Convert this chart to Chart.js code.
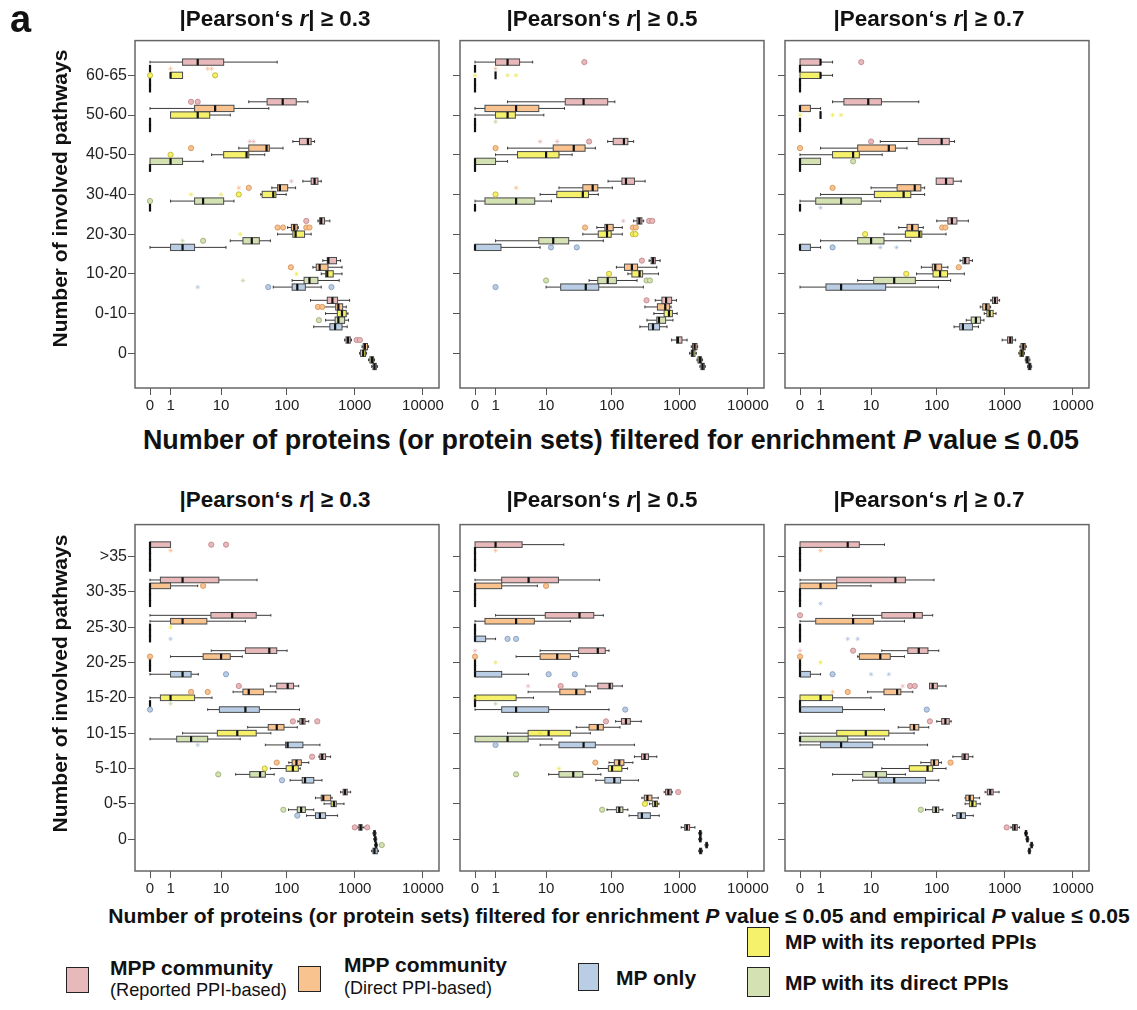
<!DOCTYPE html>
<html>
<head>
<meta charset="utf-8">
<script src="https://cdn.jsdelivr.net/npm/chart.js@4.4.0/dist/chart.umd.min.js"></script>
<style>
  body { margin: 0; background: #fff; }
  #page { position: relative; width: 1137px; height: 1010px; overflow: hidden; background: #fff;
          font-family: Arial, "Liberation Sans", sans-serif; color: #111; }
  canvas { position: absolute; }
  .t { position: absolute; white-space: nowrap; line-height: 1; }
  .sw { position: absolute; border: 1.5px solid #222; box-sizing: border-box; }
</style>
</head>
<body>
<div id="page"></div>
<script>
// x axis is log10(count + 1), ticks shown as raw counts
const xTickValues = [0, 1, 10, 100, 1000, 10000];
const topCategories = ['60-65', '50-60', '40-50', '30-40', '20-30', '10-20', '0-10', '0'];
const bottomCategories = ['>35', '30-35', '25-30', '20-25', '15-20', '10-15', '5-10', '0-5', '0'];

// slot order inside a category, top to bottom
const seriesLabels = ['MPP community (Reported PPI-based)', 'MPP community (Direct PPI-based)',
                      'MP with its reported PPIs', 'MP with its direct PPIs', 'MP only'];
const seriesColors = ['#e8b9bb', '#f9c390', '#f6f16b', '#d4e1b2', '#b9cde5'];
const seriesEdges = ['#c78f93', '#d99a62', '#c2bc3a', '#a3b47f', '#8aa2c2'];
const seriesFaint = ['rgba(225,160,165,0.45)', 'rgba(245,170,110,0.45)', 'rgba(235,228,60,0.5)',
                     'rgba(180,200,140,0.45)', 'rgba(150,175,215,0.45)'];

// each box: [low whisker, q1, median, q3, high whisker, outliers, extremes]
// ---- top row: enrichment P <= 0.05 ----
const t03Rep = [[0,2,4,11,72], [27,51,87,138,205,[3,4]], [123,154,205,229,257,[],[28,32]], [173,229,257,288,322,[],[117]],
  [288,305,322,360,431,[194]], [340,395,410,540,620], [224,395,470,560,840], [710,745,795,860,895,[1065,1190]]];
const t03Dir = [[0,0,0,0,0,[],[1,6,7]], [0,3.5,8,16,54], [19,27,50,55,88,[3]], [60,73,79,103,135,[27],[19]],
  [103,117,129,143,148,[73,88,194,216]], [243,272,305,405,650,[115]], [322,525,575,665,750,[288,333]], [1280,1330,1410,1540,1595]];
const t03MpRep = [[1,1,1,2,2,[0,8]], [1,1,4,6.5,14], [7,11,25,27,47,[1]], [41,43,63,69,98,[19],[3,10]],
  [73,123,135,183,229,[],[20]], [322,373,395,483,650,[],[139]], [373,555,650,750,795], [1180,1220,1330,1445,1490]];
const t03MpDir = [[0,0,0,0,0], [0,0,0,0,0], [0,0,1,2,5], [1,3.5,5,11,16,[0]],
  [14,22,30,39,57,[5],[2]], [120,180,216,288,590,[],[22]], [373,515,575,710,810,[298]], [1595,1670,1790,1890,1950]];
const t03MpOnly = [[0,0,0,0,0], [0,0,0,0,0], [0,0,0,0,0], [0,0,0,0,0],
  [0,1,2,3.5,12], [63,120,143,188,322,[53,455],[4]], [250,431,515,650,775], [1770,1850,1950,2070,2160]];

const t05Rep = [[0,1,2,3.5,6,[39]], [2,20,38,87,111], [87,105,151,173,210,[46],[8,15]], [88,141,162,216,310],
  [210,236,255,278,295,[355,395],[148]], [355,380,405,437,515,[278]], [437,547,630,760,895,[325]], [760,895,940,1076,1280]];
const t05Dir = [[0,0,0,0,0,[],[1]], [0,0.4,3,7.6,19.5], [2,13,27,40,57,[1]], [16,37,52,62,102,[],[3]],
  [60,79,85,105,143,[40,205,226]], [117,154,198,240,460], [308,470,612,710,745], [1475,1540,1650,1790,1830]];
const t05MpRep = [[1,1,1,1,1,[],[0,2,3]], [0,1,2,2.9,9.2], [1,3.2,10,16,25.5], [8,14.8,37,45,63,[1]],
  [37,63,85,98,143,[205,224]], [173,198,257,285,488,[91]], [417,590,695,780,915], [1395,1475,1540,1670,1750]];
const t05MpDir = [[0,0,0,0,0], [0,0,0,0,0,[],[1]], [0,0,0,1,2], [0,0.4,3,6.5,12.2],
  [1,7.6,13,22.6,75], [46,62,87,117,236,[10,325,365]], [330,460,495,620,795], [1790,1850,1975,2090,2160]];
const t05MpOnly = [[0,0,0,0,0], [0,0,0,0,0], [0,0,0,0,0], [0,0,0,0,0],
  [0,0,0,1.4,8,[12,30]], [10,17,41,64,292,[1]], [260,348,405,505,650], [1975,2045,2160,2290,2367]];

const t07Rep = [[0,0,1,1,2,[6.9]], [2,3.4,9,14.6,54], [14,53,118,153,183,[10]], [98,98,137,175,229],
  [100,146,167,198,292], [221,243,262,300,335], [625,660,720,785,840], [915,1100,1205,1300,1445]];
const t07Dir = [[0,0,0,0,0], [0,0,0,0.42,1], [1,6,19,24,36,[0]], [10,25.5,47,58,66,[2]],
  [27,36,43,53,63,[120,134]], [59,86,95,118,146,[211]], [437,475,535,590,620], [1670,1730,1870,2000,2070]];
const t07MpRep = [[0,0,1,1,2], [1,1,1,1,1,[],[0,2,3]], [0,2,5,6.4,15], [1,11.3,32,41,66],
  [16,34,55,60,137,[8]], [50,88,112,144,255,[35]], [500,547,600,675,745], [1610,1670,1770,1890,1950]];
const t07MpDir = [[0,0,0,0,0], [0,0,0,0,0], [0,0,0,1,1,[5]], [0,0.7,3,6.9,14.2],
  [1,6,10,16,41], [6,11,23,48,160], [272,322,377,442,495], [2000,2045,2140,2265,2340]];
const t07MpOnly = [[0,0,0,0,0], [0,0,0,0,0], [0,0,0,0,0], [0,0,0,0,0,[],[1]],
  [0,0,0,0.42,1,[2],[14,25]], [0,1.4,3,17,106], [180,218,243,335,412], [2160,2210,2315,2420,2480]];

// ---- bottom row: enrichment P <= 0.05 and empirical P <= 0.05 ----
const b03Rep = [[0,0,0,1,1,[6.9,12]], [0,0.42,2,9.2,36], [0,6.8,15,35,58], [6.9,24,55,71,101],
  [57,71,103,126,150,[19]], [146,156,171,186,211,[123,282]], [298,308,333,373,442,[236]], [620,675,720,775,870], [1090,1150,1220,1280,1370,[1000,1525]]];
const b03Dir = [[0,0,0,0,0,[],[1]], [0,0,0,1,4,[5]], [0,1,2,5.8,24], [1,5,10,14,21.5,[0]],
  [15.5,22,27,45,69,[3,6]], [26,53,71,91,143], [107,120,139,164,211,[71]], [265,322,345,442,465], [1850,1900,1950,2000,2050]];
const b03MpRep = [[0,0,0,0,0], [0,0,0,0,0], [0,0,0,0,0,[],[1]], [0,0,0,0,0],
  [0,0.42,1,3.5,7.1], [2,8.7,18,35,58], [57,98,123,148,158,[47]], [355,450,495,535,695], [1900,1950,2000,2050,2100]];
const b03MpDir = [[0,0,0,0,0], [0,0,0,0,0], [0,0,0,0,0], [0,0,0,0,0],
  [0,0,0,0,0,[],[1]], [0,1.46,3,6,20], [17,28,40,48,65,[9]], [106,143,163,188,250,[89]], [1950,2000,2050,2100,2150,[2490]]];
const b03MpOnly = [[0,0,0,0,0], [0,0,0,0,0], [0,0,0,0,0,[],[1]], [0,1,2,3,4.1,[12]],
  [6,9.4,24,39,154,[0]], [48,96,103,173,308,[],[4]], [112,169,186,250,330,[85]], [196,265,308,373,560,[143]], [1770,1850,1950,2140,2235]];

const b05Rep = [[0,0,1,3.9,19], [0,1.46,5.1,15.7,66], [1,9.7,33,54,75], [8,32,62,80,91,[],[0]],
  [41,62,93,103,143,[17],[5]], [114,139,162,188,272,[82]], [216,275,305,348,460], [590,620,680,750,775,[950]], [1050,1180,1270,1395,1670]];
const b05Dir = [[0,0,0,0,0,[],[1]], [0,0,0,1.46,7.2,[10]], [0,0.4,3,6.4,24], [3,8,15,24,32,[0]],
  [5,16.5,29.5,40,48], [29.5,46,62,75,132], [91,109,129,151,205,[57]], [278,302,335,390,483], [1900,1950,2000,2050,2100]];
const b05MpRep = [[0,0,0,0,0], [0,0,0,0,0], [0,0,0,0,0], [0,0,0,0,0,[],[1]],
  [0,0,0,3,6.2,[],[0]], [2,5,11,24,48,[],[8]], [62,89,101,141,171,[],[16]], [360,400,437,470,495,[308]], [1900,1950,2000,2050,2100]];
const b05MpDir = [[0,0,0,0,0], [0,0,0,0,0], [0,0,0,0,0], [0,0,0,0,0],
  [0,0,0,0,0,[],[1]], [0,0,2,5,12.4], [11,16,26.5,37,69,[3]], [85,117,129,146,173,[72]], [2350,2420,2480,2540,2600]];
const b05MpOnly = [[0,0,0,0,0], [0,0,0,0,0], [0,0,0,0.43,1,[2,3]], [0,0,0,1.46,5.1,[11,28]],
  [0,1.46,3,11,91,[158]], [8,16,38,57,216,[1]], [58,79,109,135,248], [180,243,278,370,500], [1900,1950,2020,2100,2150]];

const b07Rep = [[0,0,4,6.4,16.3], [0,2.45,24,34,91], [4.9,14.8,46,61,87,[0]], [14.8,37,54,74,107,[5],[0]],
  [78,78,87,102,137,[40,47],[31]], [100,118,134,153,163,[79]], [173,236,257,292,340], [515,555,612,675,825], [1230,1300,1395,1525,1650,[1065]]];
const b07Dir = [[0,0,0,0,0,[],[1]], [0,0,1,2.45,10], [0,0.7,5,10.9,33], [6,6.4,14,20,33,[0]],
  [8.8,16,25.5,29,44,[4],[2]], [26.5,40,46,54,76], [58,82,91,106,117,[160]], [262,268,305,348,427], [1950,2000,2050,2100,2150]];
const b07MpRep = [[0,0,0,0,0], [0,0,0,0,0], [0,0,0,0,0], [0,0,0,0,0,[],[1]],
  [0,0,1,2,10], [0,2.45,8.2,19,46], [14.8,39,73,87,137], [262,305,335,380,437], [2050,2100,2150,2200,2250]];
const b07MpDir = [[0,0,0,0,0], [0,0,0,0,0], [0,0,0,0,0], [0,0,0,0,0],
  [0,0,0,0,0], [0,0,0,4,16.3], [2,7.3,12,17.5,34], [68,87,97,107,123,[58]], [2350,2420,2480,2540,2600]];
const b07MpOnly = [[0,0,0,0,0], [0,0,0,0,0,[],[1]], [0,0,0,0,0,[],[4,6]], [0,0,0,0.42,1,[2],[10,19]],
  [0,0,0,3.2,16.3,[71]], [0,1,3,10.6,73], [4.9,13,23,68,107], [171,198,226,265,345], [2200,2250,2300,2350,2400]];

const tx = v => Math.log10(v + 1);
const SLOT = [-2 / 6, -1 / 6, 0, 1 / 6, 2 / 6];

Chart.defaults.font.family = 'Arial, "Liberation Sans", sans-serif';

const page = document.getElementById('page');

// draws boxes, whiskers and medians through the chart scales
const boxPlugin = {
    id: 'boxes',
    beforeDatasetsDraw(chart, args, opts) {
        const ctx = chart.ctx;
        const x = chart.scales.x, y = chart.scales.y;
        const unit = Math.abs(y.getPixelForValue(1) - y.getPixelForValue(0));
        const bh = unit / 6 - 0.3;
        const px = v => x.getPixelForValue(tx(v));
        opts.series.forEach((arr, s) => arr.forEach((b, i) => {
            if (!b) return;
            const [lo, q1, md, q3, hi] = b;
            const cy = y.getPixelForValue(i + SLOT[s]);
            ctx.save();
            ctx.strokeStyle = '#3a3a3a';
            ctx.lineWidth = 1;
            const cap = bh * 0.22;
            if (lo < q1) {
                ctx.beginPath();
                ctx.moveTo(px(lo), cy); ctx.lineTo(px(q1), cy);
                ctx.moveTo(px(lo), cy - cap); ctx.lineTo(px(lo), cy + cap);
                ctx.stroke();
            }
            if (hi > q3) {
                ctx.beginPath();
                ctx.moveTo(px(q3), cy); ctx.lineTo(px(hi), cy);
                ctx.moveTo(px(hi), cy - cap); ctx.lineTo(px(hi), cy + cap);
                ctx.stroke();
            }
            let mh = bh / 2;
            if (q3 > q1) {
                ctx.fillStyle = seriesColors[s];
                ctx.fillRect(px(q1), cy - bh / 2, px(q3) - px(q1), bh);
                ctx.strokeStyle = '#4a4a4a';
                ctx.strokeRect(px(q1), cy - bh / 2, px(q3) - px(q1), bh);
            } else {
                mh = unit / 12 + 0.6; // collapsed box: a solid dash joining its neighbours
            }
            ctx.strokeStyle = '#111';
            ctx.lineWidth = 2.2;
            ctx.beginPath();
            ctx.moveTo(px(md), cy - mh); ctx.lineTo(px(md), cy + mh);
            ctx.stroke();
            ctx.restore();
        }));
    },
    afterDraw(chart) {
        const a = chart.chartArea, ctx = chart.ctx;
        ctx.save();
        ctx.strokeStyle = '#666';
        ctx.lineWidth = 1.5;
        ctx.strokeRect(a.left, a.top, a.right - a.left, a.bottom - a.top);
        ctx.restore();
    }
};

function makePanel(cfg) {
    const n = cfg.cats.length;
    const padTop = 8, padRight = 16, xh = 30;
    const yw = cfg.labels ? cfg.left : 20;
    const canvas = document.createElement('canvas');
    canvas.width = yw + 304 + padRight;
    canvas.height = padTop + cfg.height + xh;
    canvas.style.left = (cfg.left - yw) + 'px';
    canvas.style.top = (cfg.top - padTop) + 'px';
    page.appendChild(canvas);

    const datasets = [];
    cfg.series.forEach((arr, s) => {
        const out = [], ext = [];
        arr.forEach((b, i) => {
            if (!b) return;
            (b[5] || []).forEach(v => out.push({ x: tx(v), y: i + SLOT[s] }));
            (b[6] || []).forEach(v => ext.push({ x: tx(v), y: i + SLOT[s] }));
        });
        datasets.push({
            label: seriesLabels[s] + ' outliers', data: out,
            pointRadius: 2.6, pointBackgroundColor: seriesColors[s],
            pointBorderColor: seriesEdges[s], pointBorderWidth: 1
        });
        datasets.push({
            label: seriesLabels[s] + ' extremes', data: ext,
            pointStyle: 'star', pointRadius: 2.4,
            pointBorderColor: seriesFaint[s], pointBorderWidth: 1
        });
    });

    const margin = cfg.margin;
    new Chart(canvas, {
        type: 'scatter',
        data: { datasets },
        plugins: [boxPlugin],
        options: {
            responsive: false,
            animation: false,
            events: [],
            layout: { padding: { top: padTop, right: padRight, bottom: 0, left: 0 } },
            plugins: {
                legend: { display: false },
                tooltip: { enabled: false },
                boxes: { series: cfg.series }
            },
            scales: {
                x: {
                    type: 'linear', min: -0.22, max: 4.235,
                    afterFit: s => { s.height = xh; },
                    afterBuildTicks: s => { s.ticks = xTickValues.map(v => ({ value: tx(v) })); },
                    ticks: {
                        autoSkip: false, maxRotation: 0, padding: 2, color: '#222',
                        font: { size: 15 },
                        callback: (v, i) => String(xTickValues[i])
                    },
                    grid: { drawOnChartArea: false, tickLength: 7, color: '#555' },
                    border: { display: false }
                },
                y: {
                    type: 'linear', reverse: true, min: -margin, max: n - 1 + margin,
                    afterFit: s => { s.width = yw; },
                    afterBuildTicks: s => { s.ticks = cfg.cats.map((c, i) => ({ value: i })); },
                    ticks: {
                        autoSkip: false, padding: 1, color: '#222',
                        font: { size: 16 },
                        callback: (v, i) => cfg.labels ? cfg.cats[i] : ''
                    },
                    grid: { drawOnChartArea: false, tickLength: 7, color: '#555' },
                    border: { display: false }
                }
            }
        }
    });
}

const topSeries = [[t03Rep, t03Dir, t03MpRep, t03MpDir, t03MpOnly],
                   [t05Rep, t05Dir, t05MpRep, t05MpDir, t05MpOnly],
                   [t07Rep, t07Dir, t07MpRep, t07MpDir, t07MpOnly]];
const bottomSeries = [[b03Rep, b03Dir, b03MpRep, b03MpDir, b03MpOnly],
                      [b05Rep, b05Dir, b05MpRep, b05MpDir, b05MpOnly],
                      [b07Rep, b07Dir, b07MpRep, b07MpDir, b07MpOnly]];
const frameLefts = [135, 460, 785];

frameLefts.forEach((left, k) => {
    makePanel({ cats: topCategories, series: topSeries[k], left, top: 38, height: 350, margin: 0.875, labels: k === 0 });
    makePanel({ cats: bottomCategories, series: bottomSeries[k], left, top: 522, height: 349, margin: 0.9, labels: k === 0 });
});

// text helper: cy is the vertical centre of capital letters, width fits the font size
function addText(html, o) {
    const el = document.createElement('div');
    el.className = 't';
    el.innerHTML = html;
    let size = o.size;
    el.style.fontSize = size + 'px';
    el.style.fontWeight = o.bold ? 'bold' : 'normal';
    page.appendChild(el);
    if (o.width) {
        const w0 = el.getBoundingClientRect().width;
        size = size * o.width / w0;
        el.style.fontSize = size + 'px';
    }
    const w = el.getBoundingClientRect().width;
    if (o.rotate) {
        el.style.transform = 'rotate(-90deg)';
        el.style.left = (o.cx - w / 2) + 'px';
        el.style.top = (o.cy - size / 2) + 'px';
    } else {
        el.style.left = (o.cx !== undefined ? o.cx - w / 2 : o.left) + 'px';
        el.style.top = (o.top !== undefined ? o.top : o.cy - 0.49 * size) + 'px';
    }
    return el;
}

function addSwatch(color, left, top, w, h) {
    const d = document.createElement('div');
    d.className = 'sw';
    Object.assign(d.style, { left: left + 'px', top: top + 'px', width: w + 'px', height: h + 'px', background: color });
    page.appendChild(d);
}

addText('a', { left: 10, top: 0, size: 38, bold: true });

const thresholds = ['0.3', '0.5', '0.7'];
const titleCenters = [275, 602, 929];
thresholds.forEach((t, k) => {
    const html = '|Pearson\u2018s <i>r</i>| \u2265 ' + t;
    addText(html, { cx: titleCenters[k], cy: 19, size: 21, bold: true, width: 191 });
    addText(html, { cx: titleCenters[k], cy: 500, size: 21, bold: true, width: 191 });
});

addText('Number of involved pathways', { cx: 60, cy: 199, size: 21, bold: true, width: 298, rotate: true });
addText('Number of involved pathways', { cx: 60, cy: 684, size: 21, bold: true, width: 298, rotate: true });

addText('Number of proteins (or protein sets) filtered for enrichment <i>P</i> value \u2264 0.05',
        { cx: 611, cy: 440, size: 21, bold: true, width: 937 });
addText('Number of proteins (or protein sets) filtered for enrichment <i>P</i> value \u2264 0.05 and empirical <i>P</i> value \u2264 0.05',
        { cx: 619, cy: 915, size: 21, bold: true, width: 1022 });

// legend
addSwatch(seriesColors[0], 66, 967, 23, 26);
addText('MPP community', { left: 110, cy: 967, size: 21, bold: true });
addText('(Reported PPI-based)', { left: 110, cy: 990, size: 17, width: 177 });
addSwatch(seriesColors[1], 298, 966, 23, 26);
addText('MPP community', { left: 344, cy: 964, size: 21, bold: true });
addText('(Direct PPI-based)', { left: 344, cy: 988, size: 17, width: 148 });
addSwatch(seriesColors[4], 578, 963, 21, 28);
addText('MP only', { left: 616, cy: 977, size: 21, bold: true });
addSwatch(seriesColors[2], 747, 927, 23, 30);
addText('MP with its reported PPIs', { left: 785, cy: 941, size: 21, bold: true });
addSwatch(seriesColors[3], 747, 967, 23, 30);
addText('MP with its direct PPIs', { left: 785, cy: 982, size: 21, bold: true });
</script>
</body>
</html>
